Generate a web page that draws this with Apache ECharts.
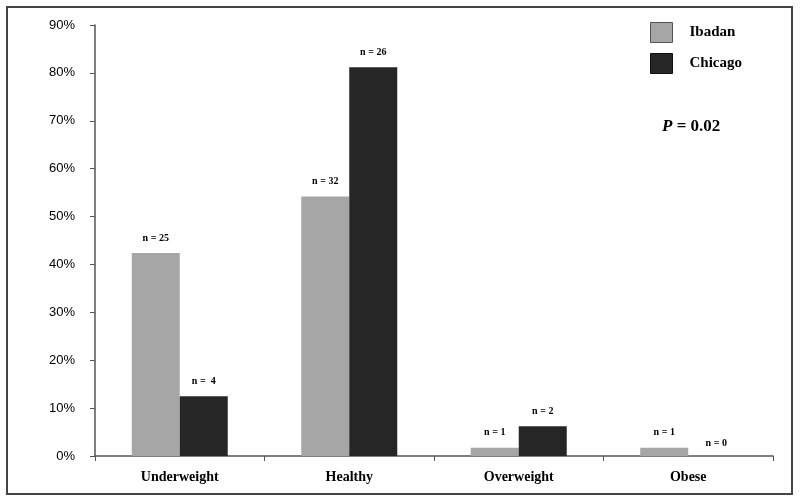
<!DOCTYPE html>
<html>
<head>
<meta charset="utf-8">
<script src="https://cdn.jsdelivr.net/npm/echarts@6/dist/echarts.min.js"></script>
<style>
  html, body { margin: 0; padding: 0; background: #fff; }
  #main { width: 800px; height: 502px; }
</style>
</head>
<body>
<div id="main"></div>
<script>
// BMI groups, share of each site's sample (%)
const categories = ['Underweight', 'Healthy', 'Overweight', 'Obese'];
const ibadan = [42.4, 54.2, 1.7, 1.7];
const chicago = [12.5, 81.2, 6.2, 0];
const ibadanN = ['n = 25', 'n = 32', 'n = 1', 'n = 1'];
const chicagoN = ['n =  4', 'n = 26', 'n = 2', 'n = 0'];
const yTicks = [0, 10, 20, 30, 40, 50, 60, 70, 80, 90];

const serif = '"Liberation Serif", "DejaVu Serif", serif';
const sans = '"Liberation Sans", Arial, sans-serif';

const chart = echarts.init(document.getElementById('main'));

const nLabel = {
  show: true,
  position: 'top',
  distance: 10,
  fontFamily: serif,
  fontWeight: 'bold',
  fontSize: 10,
  color: '#000'
};

let option = {
  animation: false,
  backgroundColor: '#fff',
  grid: { left: 95, right: 27, top: 25, bottom: 46 },
  legend: {
    orient: 'vertical',
    left: 645,
    top: 17,
    icon: 'rect',
    itemWidth: 22,
    itemHeight: 20,
    itemGap: 10,
    textStyle: { fontFamily: serif, fontWeight: 'bold', fontSize: 15, color: '#000', padding: [0, 0, 0, 12] },
    data: [
      { name: 'Ibadan', itemStyle: { color: '#a6a6a6', borderColor: '#555', borderWidth: 1 } },
      { name: 'Chicago', itemStyle: { color: '#262626', borderColor: '#111', borderWidth: 1 } }
    ]
  },
  xAxis: {
    type: 'category',
    data: categories,
    axisLine: { lineStyle: { color: '#555', width: 1.5 } },
    axisTick: { show: true, length: 5, lineStyle: { color: '#555' } },
    axisLabel: { fontFamily: serif, fontWeight: 'bold', fontSize: 14, color: '#000', margin: 14 }
  },
  yAxis: {
    type: 'value',
    min: 0,
    max: 90,
    interval: 10,
    splitLine: { show: false },
    axisLine: { show: true, lineStyle: { color: '#555', width: 1.5 } },
    axisTick: { show: true, length: 5, lineStyle: { color: '#555' } },
    axisLabel: {
      fontFamily: sans, fontSize: 13, color: '#000', margin: 20,
      formatter: v => yTicks.includes(v) ? v + '%' : ''
    }
  },
  series: [
    {
      name: 'Ibadan',
      type: 'bar',
      barWidth: 48,
      barGap: '0%',
      itemStyle: { color: '#a6a6a6' },
      label: Object.assign({}, nLabel, { formatter: p => ibadanN[p.dataIndex] }),
      data: ibadan
    },
    {
      name: 'Chicago',
      type: 'bar',
      barWidth: 48,
      barGap: '0%',
      itemStyle: { color: '#262626' },
      label: Object.assign({}, nLabel, { formatter: p => chicagoN[p.dataIndex] }),
      data: chicago.map((v, i) => v === 0
        ? { value: v, label: { offset: [4, 2] } }
        : v)
    }
  ],
  graphic: [
    {
      type: 'rect',
      shape: { x: 7, y: 7, width: 785, height: 487 },
      style: { fill: null, stroke: '#444', lineWidth: 2 },
      silent: true
    },
    {
      type: 'text',
      left: 662,
      top: 118,
      style: {
        text: '{p|P} = 0.02',
        font: 'bold 17px ' + serif,
        fill: '#000',
        rich: {
          p: { fontFamily: serif, fontWeight: 'bold', fontStyle: 'italic', fontSize: 17, fill: '#000' }
        }
      }
    }
  ]
};

chart.setOption(option);
</script>
</body>
</html>
